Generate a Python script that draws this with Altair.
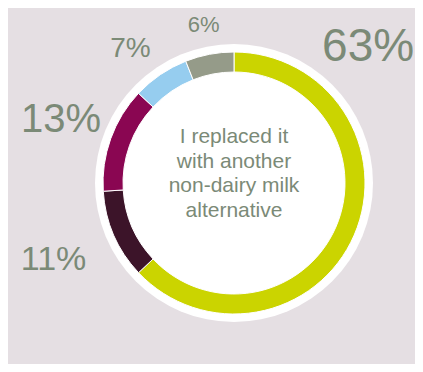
import math
import altair as alt
import pandas as pd

# ---- data ----
labels = ["63%", "11%", "13%", "7%", "6%"]
values = [63, 11, 13, 7, 6]
colors = ["#cbd400", "#3c1429", "#8a0652", "#96cdef", "#959b89"]
center_lines = ["I replaced it", "with another", "non-dairy milk", "alternative"]

# ---- label layout (polar, degrees clockwise from top; px) ----
label_angle = [44.5, 247.0, 290.0, 322.2, 349.1]
label_radius = [191.3, 196.0, 184.0, 169.0, 161.0]
label_size = [46, 34, 40, 28, 22]

CX, CY = 226, 175
BG = "#e5dfe3"
TXT = "#7b8a77"

df = pd.DataFrame({"label": labels, "value": values, "idx": list(range(len(values)))})
lab = pd.DataFrame({
    "label": labels,
    "ang": [math.radians(a) for a in label_angle],
    "r": label_radius,
    "fs": label_size,
})

disc = alt.Chart(pd.DataFrame({"a": [0]})).mark_arc(
    theta=0, theta2=2 * math.pi, outerRadius=139, innerRadius=0, fill="white"
).encode(x=alt.value(CX), y=alt.value(CY))

donut = alt.Chart(df).mark_arc(
    innerRadius=111, outerRadius=131, stroke="white", strokeWidth=1
).encode(
    theta=alt.Theta("value:Q", stack=True),
    color=alt.Color("label:N", scale=alt.Scale(domain=labels, range=colors), legend=None),
    order=alt.Order("idx:Q"),
    x=alt.value(CX),
    y=alt.value(CY),
)

pct = alt.Chart(lab).mark_text(
    font="Liberation Sans", color=TXT, baseline="middle", align="center"
).encode(
    theta=alt.Theta("ang:Q", scale=None),
    radius=alt.Radius("r:Q", scale=None),
    size=alt.Size("fs:Q", scale=None, legend=None),
    text="label:N",
    x=alt.value(CX),
    y=alt.value(CY),
)

center = alt.Chart(pd.DataFrame({"a": [0]})).mark_text(
    text=center_lines, font="Liberation Sans", fontSize=21, lineHeight=24.5,
    color=TXT, align="center", baseline="middle"
).encode(x=alt.value(CX), y=alt.value(CY - 46))

chart = alt.layer(disc, donut, pct, center).resolve_scale(
    theta="independent", radius="independent"
).properties(
    width=407, height=356, padding=0, autosize=alt.AutoSizeParams(type="none"),
    background=BG,
).configure_view(stroke=None)

chart.save("out.html", embed_options={"renderer": "svg", "actions": False})
